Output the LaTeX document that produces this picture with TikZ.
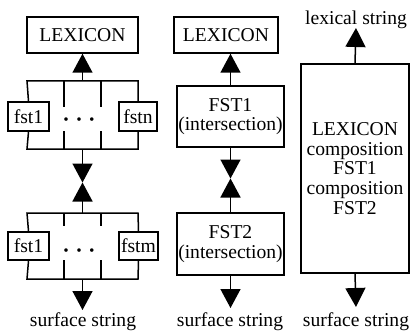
\documentclass[tikz,border=0pt]{standalone}
\usepackage{fontspec}
\setmainfont{Liberation Serif}
\usetikzlibrary{arrows.meta}
\newcommand{\diafont}{\fontsize{19.6}{19.8}\selectfont}
\newcommand{\threedots}{·\hspace{3pt}·\hspace{3pt}·}
\begin{document}
\begin{tikzpicture}[x=1pt,y=-1pt,line width=1.5pt,
  box/.style={draw,rectangle,inner sep=0pt,align=center,font=\diafont},
  arr/.style={-{Triangle[width=20pt,length=19pt]}},
  lbl/.style={anchor=base,inner sep=0pt,font=\diafont},
  dotsnode/.style={anchor=base,inner sep=0pt,font=\fontsize{30}{30}\selectfont}]
\useasboundingbox (0,0) rectangle (411,331);
% ---------- left column ----------
\node[box,minimum width=111pt,minimum height=36pt] (lexA) at (82.5,35) {LEXICON};
\node[box,minimum width=41pt,minimum height=29pt] (fA1) at (28.5,116.5) {fst1};
\node[box,minimum width=38pt,minimum height=29pt] (fAn) at (138,116.5) {fstn};
\node[dotsnode] (dA) at (79,129) {\threedots};
\coordinate (At) at (82.5,81);
\coordinate (Ab) at (82.5,149);
\draw (fA1.north) -- (27,81) -- (138,81) -- (fAn.north);
\draw (fA1.south) -- (27,149) -- (138,149) -- (fAn.south);
\draw (64,81) -- (64,107) (101,81) -- (101,107);
\draw (64,131) -- (64,149) (101,131) -- (101,149);
\draw[arr] (At) -- (lexA.south);
\coordinate (mA) at (82.5,182.5);
\draw[arr] (Ab) -- (mA);
\node[box,minimum width=41pt,minimum height=28pt] (fB1) at (28.5,246) {fst1};
\node[box,minimum width=39pt,minimum height=28pt] (fBm) at (138.5,246) {fstm};
\node[dotsnode] (dB) at (79,260) {\threedots};
\coordinate (Bt) at (82.5,213);
\coordinate (Bb) at (82.5,279);
\draw (fB1.north) -- (27,213) -- (138,213) -- (fBm.north);
\draw (fB1.south) -- (27,279) -- (138,279) -- (fBm.south);
\draw (64,213) -- (64,226) (101,213) -- (101,226);
\draw (64,260) -- (64,279) (101,260) -- (101,279);
\draw[arr] (Bt) -- (mA);
\coordinate (sA) at (82.5,310);
\draw[arr] (Bb) -- (sA);
\node[lbl] (surfA) at (83,326) {surface string};
% ---------- middle column ----------
\node[box,minimum width=104pt,minimum height=36pt] (lexB) at (226,35) {LEXICON};
\node[box,minimum width=107pt,minimum height=61pt] (fI1) at (230.5,116.5) {FST1\\(intersection)};
\node[box,minimum width=107pt,minimum height=62pt] (fI2) at (230.5,244) {FST2\\(intersection)};
\draw[arr] (fI1.north) -- (fI1.north |- lexB.south);
\coordinate (mB) at (230.5,178.5);
\draw[arr] (fI1.south) -- (mB);
\draw[arr] (fI2.north) -- (mB);
\coordinate (sB) at (230.5,308);
\draw[arr] (fI2.south) -- (sB);
\node[lbl] (surfB) at (230,326) {surface string};
% ---------- right column ----------
\node[box,minimum width=108pt,minimum height=209pt] (big) at (355,168.5)
  {LEXICON\\composition\\FST1\\composition\\FST2};
\coordinate (lC) at (356,28);
\draw[arr] (big.north) -- (lC);
\node[lbl] (lexstr) at (356,25) {lexical string};
\coordinate (sC) at (356,307);
\draw[arr] (big.south) -- (sC);
\node[lbl] (surfC) at (356,326) {surface string};
\end{tikzpicture}
\end{document}
